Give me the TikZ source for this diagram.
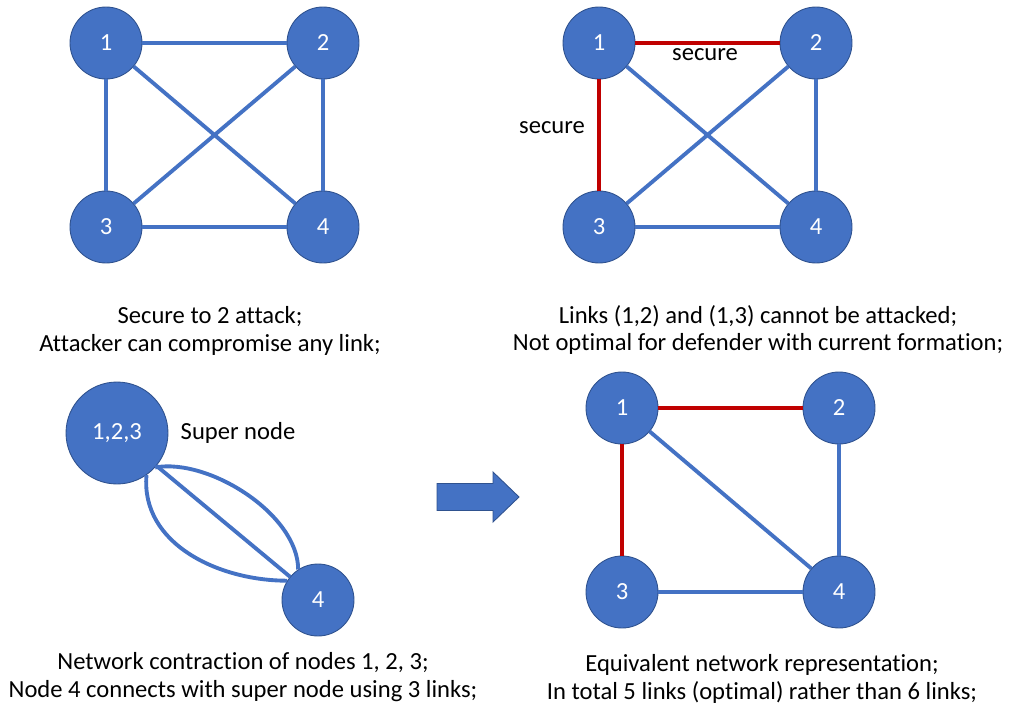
\documentclass[tikz,border=0pt]{standalone}
\usepackage{fontspec}
\setmainfont{Carlito}[Ligatures=NoCommon]
\definecolor{NodeBlue}{HTML}{4472C4}
\definecolor{NodeRim}{HTML}{2F528F}
\definecolor{SecureRed}{HTML}{C00000}

\begin{document}
\begin{tikzpicture}[x=0.02cm, y=-0.02cm,
    vertex/.style={circle, fill=NodeBlue, draw=NodeRim, line width=0.5pt,
      minimum size=1.44cm, inner sep=0pt, text=white,
      font=\fontsize{14}{16}\selectfont},
    link/.style={NodeBlue, line width=2.2pt},
    safelink/.style={SecureRed, line width=2.2pt},
    tag/.style={font=\fontsize{14}{16}\selectfont},
    caption/.style={align=center, font=\fontsize{14}{15.5}\selectfont}]
  \useasboundingbox (0,0) rectangle (1017,723);

  \node[vertex] (a1) at (106,43) {1};
  \node[vertex] (a2) at (323,43) {2};
  \node[vertex] (a3) at (106,227) {3};
  \node[vertex] (a4) at (323,227) {4};
  \draw[link] (a1) -- (a2);
  \draw[link] (a1) -- (a3);
  \draw[link] (a1) -- (a4);
  \draw[link] (a2) -- (a3);
  \draw[link] (a2) -- (a4);
  \draw[link] (a3) -- (a4);
  \node[caption] (capA) at (210,331) {Secure to 2 attack;\\Attacker can compromise any link;};

  \node[vertex] (b1) at (599,43) {1};
  \node[vertex] (b2) at (816,43) {2};
  \node[vertex] (b3) at (599,227) {3};
  \node[vertex] (b4) at (816,227) {4};
  \draw[safelink] (b1) -- (b2);
  \draw[safelink] (b1) -- (b3);
  \draw[link] (b1) -- (b4);
  \draw[link] (b2) -- (b3);
  \draw[link] (b2) -- (b4);
  \draw[link] (b3) -- (b4);
  \node[tag] (sec12) at (705,55) {secure};
  \node[tag] (sec13) at (552,128) {secure};
  \node[caption] (capB) at (758,330) {Links (1,2) and (1,3) cannot be attacked;\\Not optimal for defender with current formation;};

  \node[vertex, minimum size=2.04cm] (super) at (117,433) {1,2,3};
  \node[vertex] (c4) at (318,600) {4};
  \draw[link] (super) -- (c4);
  \draw[link] (super.-42) to[out=10, in=90, looseness=0.8] (c4.123);
  \draw[link] (super.-55) to[out=-95, in=180] (c4.148);
  \node[tag] (supLabel) at (238,433) {Super node};
  \node[caption] (capC) at (243,677) {Network contraction of nodes 1, 2, 3;\\Node 4 connects with super node using 3 links;};

  \fill[NodeBlue, draw=NodeRim, line width=0.5pt]
    (437,483.5) -- (493,483.5) -- (493,472) -- (519,497) -- (493,522)
    -- (493,510.5) -- (437,510.5) -- cycle;

  \node[vertex] (d1) at (622,408) {1};
  \node[vertex] (d2) at (839,408) {2};
  \node[vertex] (d3) at (622,592) {3};
  \node[vertex] (d4) at (839,592) {4};
  \draw[safelink] (d1) -- (d2);
  \draw[safelink] (d1) -- (d3);
  \draw[link] (d1) -- (d4);
  \draw[link] (d2) -- (d4);
  \draw[link] (d3) -- (d4);
  \node[caption] (capD) at (762,679) {Equivalent network representation;\\In total 5 links (optimal) rather than 6 links;};
\end{tikzpicture}
\end{document}
